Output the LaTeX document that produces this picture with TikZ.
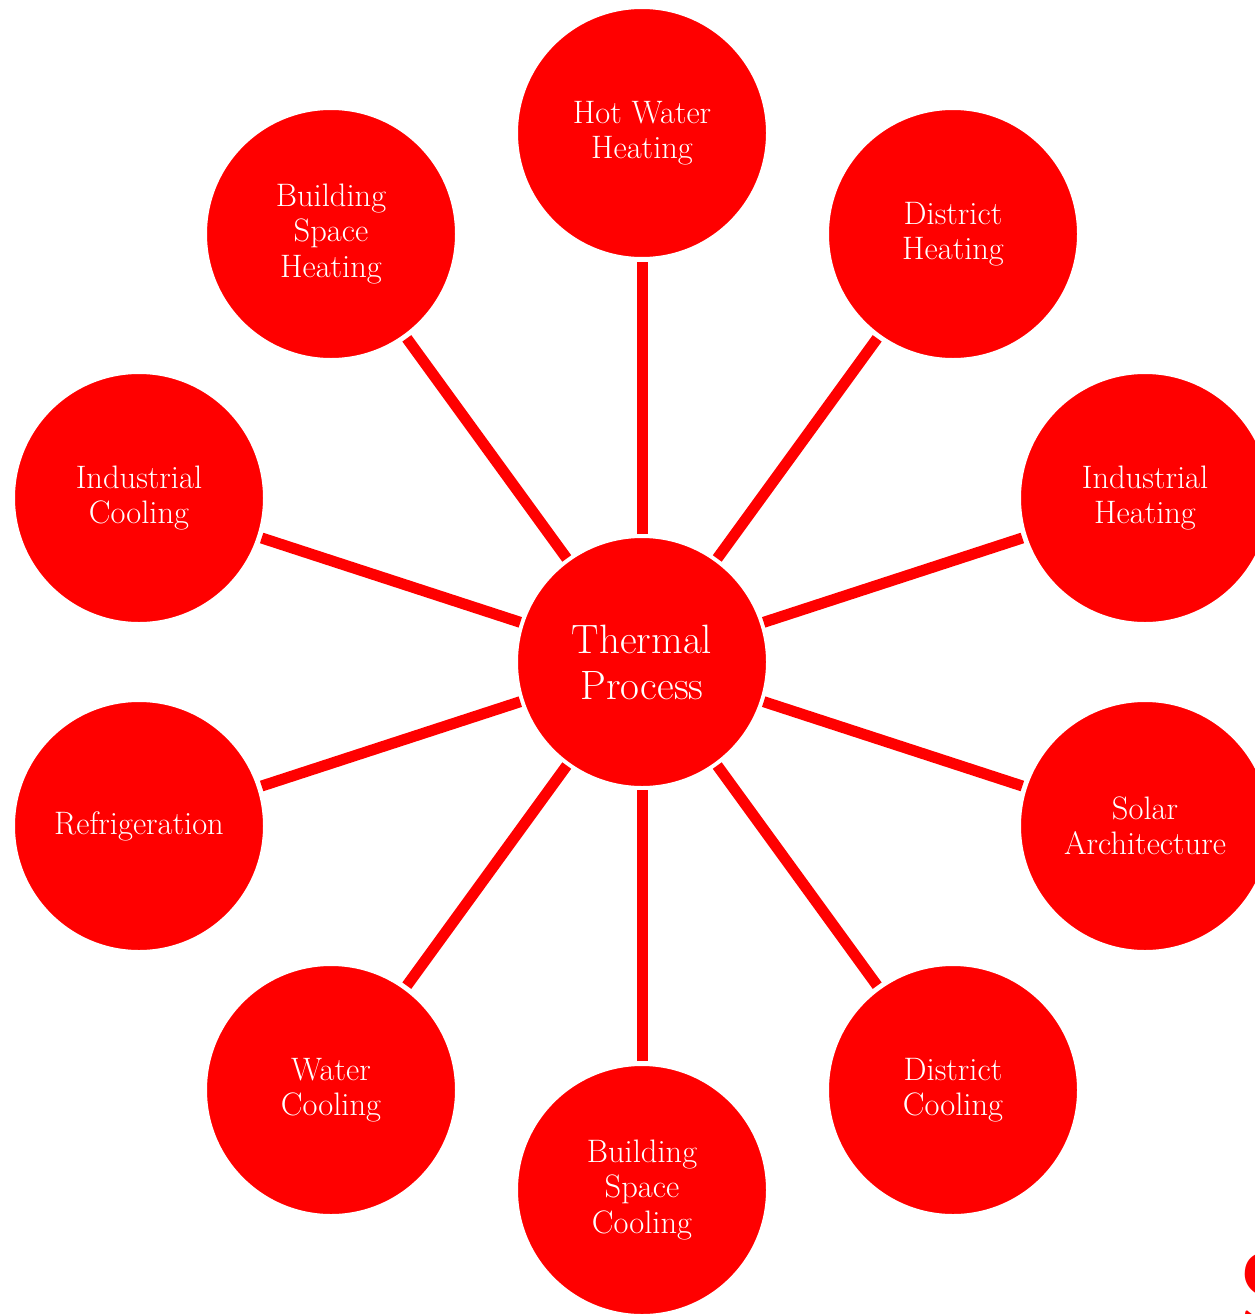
\documentclass[tikz,border=0pt]{standalone}
\usepackage{fontspec}
\definecolor{bred}{RGB}{255,0,0}
\begin{document}
\begin{tikzpicture}[x=1pt,y=-1pt,
  bubble/.style={circle,fill=bred,draw=white,line width=3pt,minimum size=251pt,inner sep=0pt,
    text=white,align=center,font=\fontsize{32.5}{35.5}\selectfont},
  hub/.style={bubble,font=\fontsize{41}{46}\selectfont},
  spoke/.style={bred,line width=11pt,shorten <=1pt,shorten >=2pt}]
\useasboundingbox (0,0) rectangle (1254,1314);
\node[hub] (c) at (642,662) {Thermal\\Process};
\node[bubble] (n1) at (642,133) {Hot Water\\Heating};
\node[bubble] (n2) at (953,234) {District\\Heating};
\node[bubble] (n3) at (1145,498) {Industrial\\Heating};
\node[bubble] (n4) at (1145,826) {Solar\\Architecture};
\node[bubble] (n5) at (953,1090) {District\\Cooling};
\node[bubble] (n6) at (642,1190) {Building\\Space\\Cooling};
\node[bubble] (n7) at (331,1090) {Water\\Cooling};
\node[bubble] (n8) at (139,826) {Refrigeration};
\node[bubble] (n9) at (139,498) {Industrial\\Cooling};
\node[bubble] (n10) at (331,234) {Building\\Space\\Heating};
\foreach \i in {1,...,10} {
  \draw[spoke] (c) -- (n\i);
}
\node[text=bred,font=\sffamily\bfseries\fontsize{110}{110}\selectfont,anchor=west,inner sep=0pt] (logo) at (1238,1292) {S};
\end{tikzpicture}
\end{document}
